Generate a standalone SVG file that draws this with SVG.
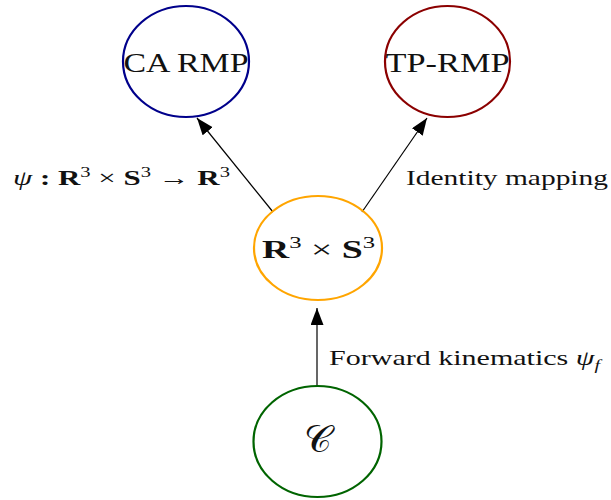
<svg xmlns="http://www.w3.org/2000/svg" width="611" height="500" viewBox="0 0 611 500">
<style>
text{font-family:"Liberation Serif","DejaVu Serif",serif;fill:#111}
.node{fill:none;stroke-width:2.2}
.lbl{font-size:21px}
.edge{stroke:#000;stroke-width:1.2;fill:none}
</style>
<defs>
<marker id="ah" markerUnits="userSpaceOnUse" markerWidth="18" markerHeight="14" refX="17" refY="6.5" orient="auto">
<path d="M0,0 L17,6.5 L0,13 Z" fill="#000"/>
</marker>
</defs>
<rect width="611" height="500" fill="#fff"/>
<g id="edges">
<line class="edge" x1="273" y1="212" x2="197" y2="118" marker-end="url(#ah)"/>
<line class="edge" x1="362" y1="212" x2="427" y2="118" marker-end="url(#ah)"/>
<line class="edge" x1="317" y1="386" x2="317" y2="308" marker-end="url(#ah)"/>
<text class="lbl" x="13" y="185" textLength="217" lengthAdjust="spacingAndGlyphs"><tspan font-style="italic">ψ</tspan> <tspan font-weight="bold">:</tspan> <tspan font-weight="bold">R</tspan><tspan font-size="14" dy="-8">3</tspan><tspan dy="8"> × </tspan><tspan font-weight="bold">S</tspan><tspan font-size="14" dy="-8">3</tspan><tspan dy="8"> → </tspan><tspan font-weight="bold">R</tspan><tspan font-size="14" dy="-8">3</tspan></text>
<text class="lbl" x="406" y="185" textLength="202" lengthAdjust="spacingAndGlyphs">Identity mapping</text>
<text class="lbl" x="329" y="365" textLength="271" lengthAdjust="spacingAndGlyphs">Forward kinematics <tspan font-style="italic">ψ</tspan><tspan font-style="italic" font-size="14" dy="5">f</tspan></text>
</g>
<g id="ca-rmp">
<ellipse class="node" cx="186" cy="61.5" rx="63" ry="55.5" stroke="#00008b"/>
<text x="186" y="72" font-size="28" text-anchor="middle" textLength="125" lengthAdjust="spacingAndGlyphs">CA RMP</text>
</g>
<g id="tp-rmp">
<ellipse class="node" cx="447.5" cy="61.5" rx="62.5" ry="55.5" stroke="#8b0000"/>
<text x="447.5" y="72" font-size="28" text-anchor="middle" textLength="124" lengthAdjust="spacingAndGlyphs">TP-RMP</text>
</g>
<g id="r3s3">
<ellipse class="node" cx="318" cy="248" rx="64" ry="52" stroke="#ffa500"/>
<text x="262" y="258" font-size="26" textLength="113" lengthAdjust="spacingAndGlyphs"><tspan font-weight="bold">R</tspan><tspan font-size="17" dy="-10">3</tspan><tspan dy="10"> × </tspan><tspan font-weight="bold">S</tspan><tspan font-size="17" dy="-10">3</tspan></text>
</g>
<g id="config">
<ellipse class="node" cx="317.5" cy="441.5" rx="64" ry="55.5" stroke="#006400"/>
<text x="318" y="452" font-size="38" text-anchor="middle" font-family="DejaVu Serif, DejaVu Sans, serif">𝒞</text>
</g>
</svg>
